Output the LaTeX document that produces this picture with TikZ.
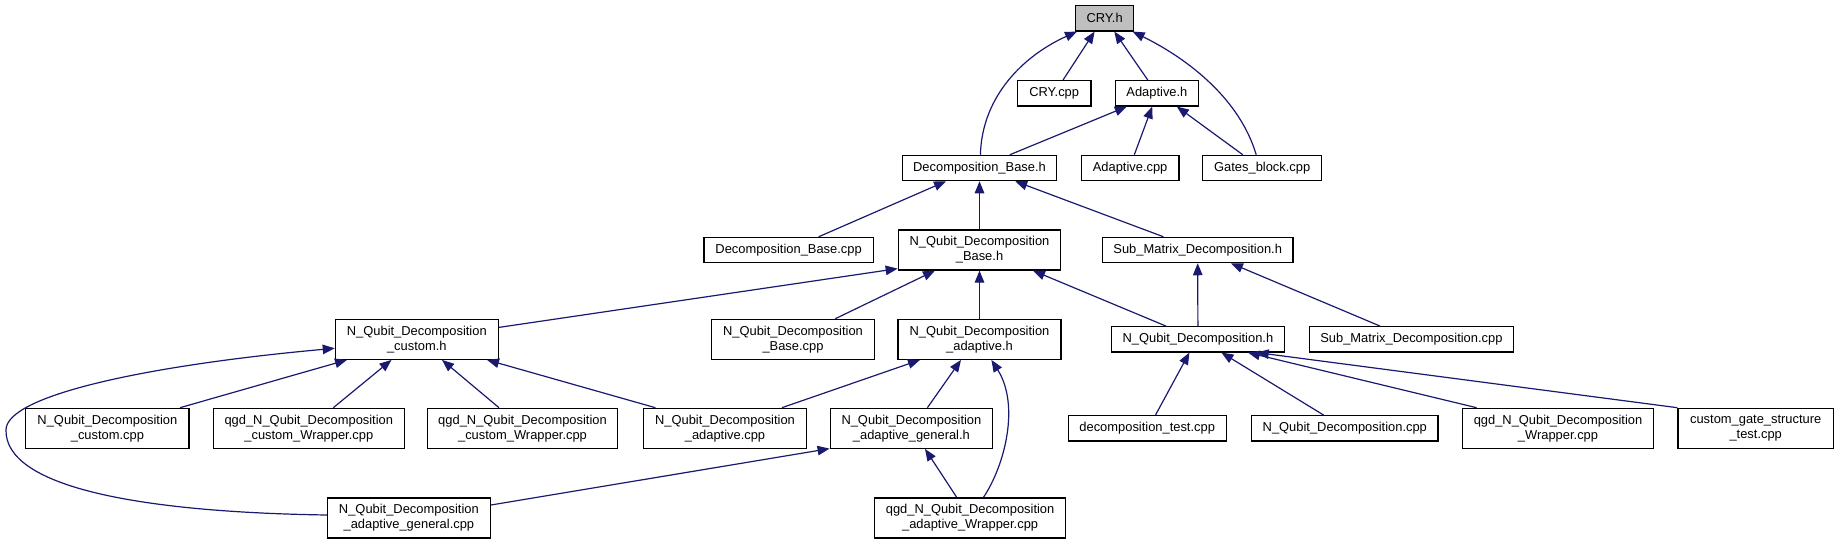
\documentclass[tikz,border=0pt]{standalone}
\usepackage{fontspec}
\setmainfont{Liberation Sans}
\usetikzlibrary{arrows.meta}
\definecolor{edgeblue}{HTML}{191970}
\definecolor{rootgray}{HTML}{BFBFBF}
\tikzset{
  box/.style={draw=black, fill=white, line width=1.2pt, inner sep=0pt, align=center,
    font=\fontsize{12.9}{15}\selectfont, minimum height=25.3pt},
  tall/.style={minimum height=40pt},
  edge/.style={draw=edgeblue, line width=1.2pt, -{Triangle[length=12pt,width=9.5pt]}},
}
\begin{document}
\begin{tikzpicture}[x=1pt,y=-1pt]
\useasboundingbox (0,0) rectangle (1838,544);
% nodes
\node[box, fill=rootgray, minimum width=58.5pt] (cry) at (1104.6,18.3) {CRY.h};
\node[box, minimum width=73.6pt] (crycpp) at (1054.2,93.3) {CRY.cpp};
\node[box, minimum width=82.6pt] (adh) at (1156.9,93.3) {Adaptive.h};
\node[box, minimum width=154.5pt] (dbh) at (979.5,168) {Decomposition\_Base.h};
\node[box, minimum width=97.8pt] (adcpp) at (1130.1,168) {Adaptive.cpp};
\node[box, minimum width=119.1pt] (gbcpp) at (1262.2,168) {Gates\_block.cpp};
\node[box, minimum width=169.2pt] (dbcpp) at (788.6,250) {Decomposition\_Base.cpp};
\node[box, tall, minimum width=162.5pt] (nbh) at (979.5,250) {N\_Qubit\_Decomposition\\\_Base.h};
\node[box, minimum width=190.6pt] (smh) at (1197.7,250) {Sub\_Matrix\_Decomposition.h};
\node[box, tall, minimum width=162.9pt] (cuh) at (416.8,339.3) {N\_Qubit\_Decomposition\\\_custom.h};
\node[box, tall, minimum width=162.9pt] (nbcpp) at (793,339.3) {N\_Qubit\_Decomposition\\\_Base.cpp};
\node[box, tall, minimum width=162.9pt] (nah) at (979.5,339.3) {N\_Qubit\_Decomposition\\\_adaptive.h};
\node[box, minimum width=173.2pt] (nh) at (1197.9,339.3) {N\_Qubit\_Decomposition.h};
\node[box, minimum width=203.8pt] (smcpp) at (1411.4,339.3) {Sub\_Matrix\_Decomposition.cpp};
\node[box, tall, minimum width=163.3pt] (cucpp) at (107.4,428.3) {N\_Qubit\_Decomposition\\\_custom.cpp};
\node[box, tall, minimum width=190.6pt] (cw1) at (308.8,428.3) {qgd\_N\_Qubit\_Decomposition\\\_custom\_Wrapper.cpp};
\node[box, tall, minimum width=190.6pt] (cw2) at (522.5,428.3) {qgd\_N\_Qubit\_Decomposition\\\_custom\_Wrapper.cpp};
\node[box, tall, minimum width=162.9pt] (nacpp) at (725,428.3) {N\_Qubit\_Decomposition\\\_adaptive.cpp};
\node[box, tall, minimum width=162.5pt] (nagh) at (911.4,428.3) {N\_Qubit\_Decomposition\\\_adaptive\_general.h};
\node[box, minimum width=157.9pt] (dtcpp) at (1147.2,428.3) {decomposition\_test.cpp};
\node[box, minimum width=186.4pt] (ncpp) at (1344.8,428.3) {N\_Qubit\_Decomposition.cpp};
\node[box, tall, minimum width=191.1pt] (nw) at (1558,428.3) {qgd\_N\_Qubit\_Decomposition\\\_Wrapper.cpp};
\node[box, tall, minimum width=155.4pt] (cgst) at (1755.7,428.3) {custom\_gate\_structure\\\_test.cpp};
\node[box, tall, minimum width=162.9pt] (nagcpp) at (408.9,517.9) {N\_Qubit\_Decomposition\\\_adaptive\_general.cpp};
\node[box, tall, minimum width=190.6pt] (naw) at (970.1,517.9) {qgd\_N\_Qubit\_Decomposition\\\_adaptive\_Wrapper.cpp};
% edges
\draw[edge] ([xshift=0.9pt]dbh.north) .. controls (982,95) and (1025,55) .. ([xshift=-27.6pt]cry.south);
\draw[edge] ([xshift=8.8pt]crycpp.north) -- ([xshift=-10pt]cry.south);
\draw[edge] ([xshift=-9.1pt]adh.north) -- ([xshift=9.7pt]cry.south);
\draw[edge] ([xshift=-6pt]gbcpp.north) .. controls (1240,100) and (1190,60) .. ([xshift=28pt]cry.south);
\draw[edge] ([xshift=30.3pt]dbh.north) -- ([xshift=-30.1pt]adh.south);
\draw[edge] ([xshift=4.2pt]adcpp.north) -- ([xshift=-4.7pt]adh.south);
\draw[edge] ([xshift=-19.4pt]gbcpp.north) -- ([xshift=19.9pt]adh.south);
\draw[edge] ([xshift=30.1pt]dbcpp.north) -- ([xshift=-33.5pt]dbh.south);
\draw[edge] (nbh.north) -- (dbh.south);
\draw[edge] ([xshift=-34.3pt]smh.north) -- ([xshift=35.7pt]dbh.south);
\draw[edge] (nh.north) -- (smh.south);
\draw[edge] ([xshift=-31.4pt]smcpp.north) -- ([xshift=33.2pt]smh.south);
\draw[edge] ([xshift=-32pt]nh.north) -- ([xshift=53.5pt]nbh.south);
\draw[edge] ([yshift=-8.7pt]cuh.north east) -- ([yshift=2pt]nbh.south west);
\draw[edge] ([xshift=42.3pt]nbcpp.north) -- ([xshift=-44.5pt]nbh.south);
\draw[edge] (nah.north) -- (nbh.south);
\draw[edge] ([xshift=72.6pt]cucpp.north) -- ([xshift=-69.8pt]cuh.south);
\draw[edge] ([xshift=24.5pt]cw1.north) -- ([xshift=-25.3pt]cuh.south);
\draw[edge] ([xshift=-23.5pt]cw2.north) -- ([xshift=25.2pt]cuh.south);
\draw[edge] ([xshift=-69.6pt]nacpp.north) -- ([xshift=70.2pt]cuh.south);
\draw[edge] ([yshift=2.9pt]nagcpp.west) .. controls (130,512) and (5,485) .. (6,430)
  .. controls (6,395) and (150,365) .. ([yshift=-9pt]cuh.west);
\draw[edge] ([xshift=56.9pt]nacpp.north) -- ([xshift=-59.5pt]nah.south);
\draw[edge] ([xshift=16pt]nagh.north) -- ([xshift=-18.5pt]nah.south);
\draw[edge] ([xshift=13.4pt]naw.north) .. controls (1005,465) and (1020,405) .. ([xshift=11.9pt]nah.south);
\draw[edge] ([yshift=12.9pt]nagcpp.east) -- ([yshift=0.3pt]nagh.south west);
\draw[edge] ([xshift=-13.4pt]naw.north) -- ([xshift=13.6pt]nagh.south);
\draw[edge] ([xshift=8.3pt]dtcpp.north) -- ([xshift=-8.5pt]nh.south);
\draw[edge] ([xshift=-21.2pt]ncpp.north) -- ([xshift=23.5pt]nh.south);
\draw[edge] ([xshift=-81.4pt]nw.north) -- ([xshift=50pt]nh.south);
\draw[edge] (cgst.north west) -- ([xshift=58.8pt]nh.south);
\end{tikzpicture}
\end{document}
